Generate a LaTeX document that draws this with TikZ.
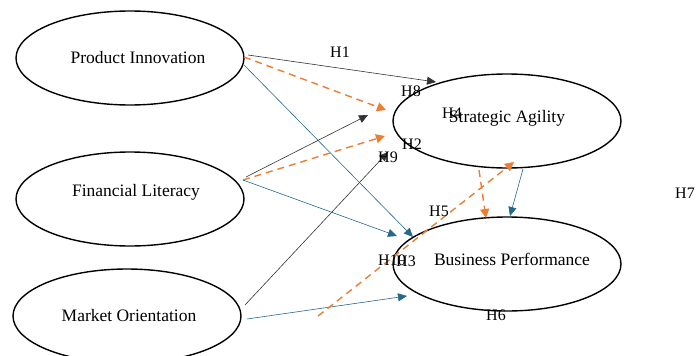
\documentclass[tikz,border=0pt]{standalone}
\usepackage{fontspec}
\setmainfont{Liberation Serif}
\usetikzlibrary{arrows.meta,shapes.geometric}
\definecolor{cblue}{RGB}{35,105,140}
\definecolor{corange}{RGB}{237,125,49}
\tikzset{
  var/.style={draw=black, line width=1.4pt, ellipse, minimum width=228pt, minimum height=94pt, inner sep=0pt},
  vtxt/.style={font=\fontsize{17.5}{20}\selectfont, inner sep=0pt},
  blk/.style={draw=black!80, line width=0.6pt, -{Triangle[length=9pt,width=8pt]}},
  blu/.style={draw=cblue, line width=0.6pt, -{Triangle[length=9pt,width=8pt]}},
  org/.style={draw=corange, line width=1.4pt, dash pattern=on 7pt off 5pt, -{Triangle[length=9pt,width=9pt]}},
  hlab/.style={font=\fontsize{16}{19}\selectfont, inner sep=0pt}
}
\begin{document}
\begin{tikzpicture}[x=1pt,y=-1pt]
\useasboundingbox (0,0) rectangle (696,356);
\node[var] (pi) at (130,58) {};
\node[var] (fl) at (130,199) {};
\node[var] (mo) at (127,316) {};
\node[var] (sa) at (507,121) {};
\node[var] (bp) at (507,264) {};
\node[vtxt] (pit) at (138,58) {Product Innovation};
\node[vtxt] (flt) at (136,192) {Financial Literacy};
\node[vtxt] (mot) at (129,316) {Market Orientation};
\node[vtxt] (sat) at (507,118) {Strategic Agility};
\node[vtxt] (bpt) at (512,259) {Business Performance};
% endpoints
\coordinate (a1) at (248,55);  \coordinate (b1) at (436,82);
\coordinate (a2) at (244,57);  \coordinate (b2) at (386,110);
\coordinate (a3) at (244,65);  \coordinate (b3) at (413,237);
\coordinate (a4) at (246,177); \coordinate (b4) at (368,115);
\coordinate (a5) at (243,180); \coordinate (b5) at (385,136);
\coordinate (a6) at (243,180); \coordinate (b6) at (397,236);
\coordinate (a7) at (245,305); \coordinate (b7) at (388,152);
\coordinate (a8) at (247,319); \coordinate (b8) at (407,296);
\coordinate (a9) at (318,316); \coordinate (b9) at (514,162);
\coordinate (a10) at (479,170); \coordinate (b10) at (486,218);
\coordinate (a11) at (523,169); \coordinate (b11) at (510,216);
\draw[blk] (a1) -- (b1);
\draw[org] (a2) -- (b2);
\draw[blu] (a3) -- (b3);
\draw[blk] (a4) -- (b4);
\draw[org] (a5) -- (b5);
\draw[blu] (a6) -- (b6);
\draw[blk] (a7) -- (b7);
\draw[blu] (a8) -- (b8);
\draw[org] (a9) -- (b9);
\draw[org] (a10) -- (b10);
\draw[blu] (a11) -- (b11);
% labels
\node[hlab] (h1) at (340,52) {H1};
\node[hlab] (h8) at (411,91) {H8};
\node[hlab] (h4) at (452,113) {H4};
\node[hlab] (h2) at (412,144) {H2};
\node[hlab] (h9) at (388,157) {H9};
\node[hlab] (h5) at (439,211) {H5};
\node[hlab] (h10) at (392,260) {H10};
\node[hlab] (h3) at (406,261) {H3};
\node[hlab] (h6) at (496,315) {H6};
\node[hlab] (h7) at (685,193) {H7};
\end{tikzpicture}
\end{document}
